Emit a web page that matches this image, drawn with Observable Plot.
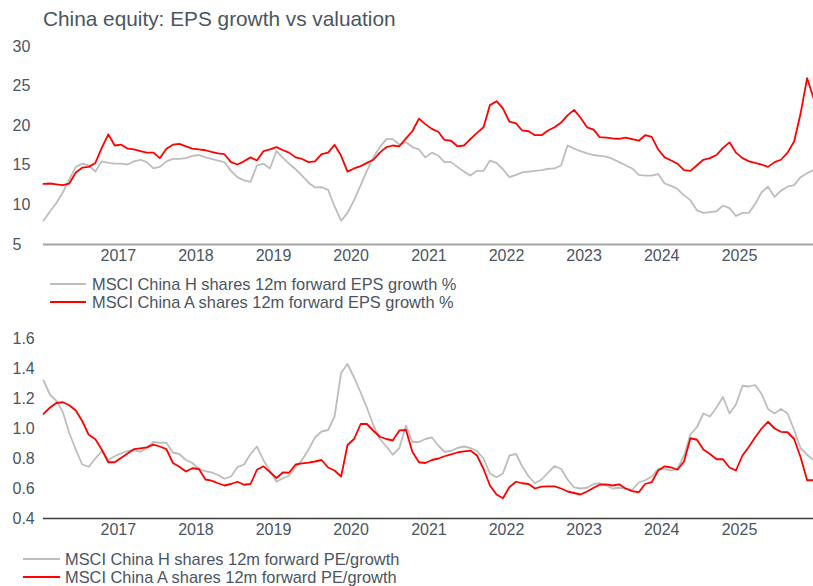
<!DOCTYPE html>
<html>
<head>
<meta charset="utf-8">
<script src="https://cdn.jsdelivr.net/npm/d3@7"></script>
<script src="https://cdn.jsdelivr.net/npm/@observablehq/plot@0.6"></script>
<style>
  html, body { margin: 0; padding: 0; background: #fff; }
  #root { position: relative; width: 813px; height: 586px; overflow: hidden; font-family: "Liberation Sans", Arial, sans-serif; color: #4a5561; }
  .title { position: absolute; left: 43px; top: 6px; font-size: 20.8px; line-height: 26px; white-space: nowrap; }
  .chart { position: absolute; left: 0; }
  .legend { position: absolute; font-size: 16.4px; white-space: nowrap; }
  .legend .item { position: relative; height: 18px; line-height: 18px; }
  .legend .sw { position: absolute; top: 8px; height: 2px; }
  .legend .tx { position: absolute; top: 0; }
</style>
</head>
<body>
<div id="root">
  <div class="title">China equity: EPS growth vs valuation</div>
  <div id="top" class="chart" style="top:30px"></div>
  <div id="legend1" class="legend" style="left:0; top:275px"></div>
  <div id="bottom" class="chart" style="top:322px"></div>
  <div id="legend2" class="legend" style="left:0; top:550px"></div>
</div>
<script>
// ---- Data (monthly, Jan 2016 – Dec 2025) ----
const startMonth = "2016-01-15";
const yearTicks = [2017, 2018, 2019, 2020, 2021, 2022, 2023, 2024, 2025];

const seriesNames = {
  epsH: "MSCI China H shares 12m forward EPS growth %",
  epsA: "MSCI China A shares 12m forward EPS growth %",
  pegH: "MSCI China H shares 12m forward PE/growth",
  pegA: "MSCI China A shares 12m forward PE/growth"
};

const epsH = [
  8.0, 9.2, 10.2, 11.6, 13.2, 14.8, 15.2, 15.0, 14.2, 15.5, 15.3, 15.2,
  15.2, 15.1, 15.5, 15.7, 15.4, 14.6, 14.8, 15.5, 15.8, 15.8, 15.9, 16.2,
  16.3, 16.0, 15.8, 15.6, 15.4, 14.3, 13.5, 13.1, 12.9, 15.0, 15.2, 14.6,
  16.8, 15.9, 15.2, 14.5, 13.7, 12.8, 12.2, 12.25, 11.9, 9.8, 8.0, 9.0,
  10.6, 12.5, 14.3, 16.0, 17.3, 18.3, 18.3, 17.6, 17.9, 17.3, 17.0, 16.0,
  16.6, 16.2, 15.4, 15.4, 14.8, 14.2, 13.7, 14.3, 14.3, 15.6, 15.3, 14.5,
  13.5, 13.8, 14.1, 14.2, 14.3, 14.4, 14.55, 14.6, 15.0, 17.5, 17.1, 16.8,
  16.5, 16.3, 16.2, 16.1, 15.8, 15.4, 15.0, 14.6, 13.8, 13.7, 13.7, 13.9,
  12.7, 12.4, 12.0, 11.2, 10.6, 9.3, 9.0, 9.1, 9.2, 9.9, 9.6, 8.6,
  9.0, 9.0, 10.1, 11.6, 12.3, 11.0, 11.8, 12.3, 12.5, 13.5, 14.0, 14.4
];
const epsA = [
  12.66, 12.7, 12.6, 12.5, 12.7, 14.1, 14.7, 14.8, 15.3, 17.2, 18.9, 17.5,
  17.6, 17.1, 17.0, 16.8, 16.6, 16.6, 15.9, 17.1, 17.6, 17.7, 17.4, 17.1,
  17.0, 16.9, 16.7, 16.5, 16.4, 15.4, 15.1, 15.5, 16.0, 15.6, 16.8, 17.0,
  17.3, 16.9, 16.6, 16.0, 15.8, 15.4, 15.5, 16.4, 16.6, 17.6, 16.2, 14.2,
  14.6, 14.9, 15.3, 15.7, 16.6, 17.3, 17.5, 17.4, 18.4, 19.3, 20.9, 20.2,
  19.6, 19.2, 18.2, 18.1, 17.4, 17.5, 18.3, 19.1, 19.8, 22.6, 23.1, 22.2,
  20.5, 20.3, 19.4, 19.3, 18.8, 18.8, 19.4, 19.8, 20.4, 21.3, 22.0, 21.0,
  19.8, 19.5, 18.55, 18.5, 18.4, 18.35, 18.5, 18.3, 18.1, 18.8, 18.6, 17.0,
  16.0, 15.6, 15.2, 14.4, 14.3, 15.0, 15.7, 15.9, 16.3, 17.2, 17.9, 16.6,
  15.9, 15.5, 15.3, 15.1, 14.8, 15.4, 15.7, 16.6, 18.0, 21.5, 26.0, 23.5
];
const pegH = [
  1.32, 1.225, 1.185, 1.11, 0.97, 0.86, 0.76, 0.745, 0.80, 0.85, 0.79, 0.815,
  0.835, 0.85, 0.855, 0.845, 0.87, 0.91, 0.905, 0.905, 0.84, 0.83, 0.79, 0.77,
  0.73, 0.715, 0.707, 0.69, 0.665, 0.68, 0.742, 0.76, 0.83, 0.88, 0.787, 0.72,
  0.645, 0.67, 0.685, 0.742, 0.79, 0.86, 0.94, 0.98, 0.99, 1.08, 1.37, 1.43,
  1.34, 1.24, 1.14, 1.02, 0.93, 0.88, 0.825, 0.87, 1.02, 0.91, 0.91, 0.93,
  0.94, 0.885, 0.845, 0.85, 0.87, 0.88, 0.87, 0.85, 0.80, 0.70, 0.675, 0.70,
  0.82, 0.83, 0.75, 0.68, 0.635, 0.66, 0.705, 0.75, 0.73, 0.66, 0.607, 0.60,
  0.605, 0.63, 0.635, 0.62, 0.60, 0.605, 0.60, 0.59, 0.64, 0.655, 0.68, 0.73,
  0.73, 0.72, 0.73, 0.82, 0.96, 1.01, 1.10, 1.08, 1.14, 1.21, 1.10, 1.16,
  1.285, 1.28, 1.29, 1.23, 1.13, 1.10, 1.13, 1.10, 0.99, 0.87, 0.825, 0.79
];
const pegA = [
  1.098, 1.14, 1.17, 1.175, 1.155, 1.12, 1.05, 0.958, 0.928, 0.86, 0.775, 0.775,
  0.805, 0.835, 0.862, 0.868, 0.874, 0.892, 0.88, 0.862, 0.77, 0.745, 0.713, 0.735,
  0.73, 0.66, 0.653, 0.635, 0.62, 0.63, 0.645, 0.625, 0.63, 0.725, 0.748, 0.71,
  0.67, 0.708, 0.705, 0.76, 0.768, 0.772, 0.78, 0.79, 0.74, 0.72, 0.68, 0.89,
  0.93, 1.03, 1.03, 0.985, 0.945, 0.93, 0.92, 0.987, 0.99, 0.845, 0.775, 0.77,
  0.79, 0.80, 0.815, 0.827, 0.84, 0.848, 0.853, 0.82, 0.73, 0.62, 0.56, 0.535,
  0.61, 0.645, 0.635, 0.63, 0.60, 0.612, 0.614, 0.614, 0.60, 0.58, 0.57, 0.56,
  0.58, 0.605, 0.625, 0.628, 0.62, 0.628, 0.60, 0.582, 0.575, 0.63, 0.642, 0.72,
  0.748, 0.74, 0.725, 0.78, 0.935, 0.925, 0.86, 0.83, 0.795, 0.795, 0.74, 0.72,
  0.82, 0.88, 0.94, 1.0, 1.045, 1.0, 0.978, 0.975, 0.93, 0.81, 0.655, 0.655
];

const topTicks = [5, 10, 15, 20, 25, 30];
const bottomTicks = [0.4, 0.6, 0.8, 1.0, 1.2, 1.4, 1.6];

// ---- Styles ----
const grayColor = "#bdbdbd";
const redColor = "#ff0000";
const textColor = "#4a5561";

// ---- Build tables ----
const t0 = new Date(startMonth + "T00:00:00Z");
const dates = epsH.map((_, i) => d3.utcMonth.offset(t0, i));
function toRows(values, key) {
  return values.map((v, i) => ({ date: dates[i], value: v, key }));
}
const topRows = [...toRows(epsH, "H"), ...toRows(epsA, "A")];
const bottomRows = [...toRows(pegH, "H"), ...toRows(pegA, "A")];
const xTicks = yearTicks.map(y => new Date(Date.UTC(y, 0, 1)));
const xDomain = [dates[0], dates[dates.length - 1]];

function makeChart(rows, yDomain, yTicks, yFmt, axisColor, axisWidth, height) {
  return Plot.plot({
    width: 813,
    height,
    marginTop: 16,
    marginBottom: 25,
    marginLeft: 43,
    marginRight: 0,
    style: { fontFamily: '"Liberation Sans", Arial, sans-serif', fontSize: "16px", color: textColor, background: "white" },
    x: { type: "utc", domain: xDomain },
    y: { domain: yDomain },
    color: { domain: ["H", "A"], range: [grayColor, redColor] },
    marks: [
      Plot.axisY({ ticks: yTicks, tickFormat: yFmt, tickSize: 0, tickPadding: 31, textAnchor: "start", label: null, fill: textColor, fontSize: 16 }),
      Plot.axisX({ ticks: xTicks, tickFormat: d3.utcFormat("%Y"), tickSize: 0, tickPadding: 5, label: null, fill: textColor, fontSize: 16 }),
      Plot.ruleY([yDomain[0]], { stroke: axisColor, strokeWidth: axisWidth }),
      Plot.line(rows, { x: "date", y: "value", z: "key", stroke: "key", strokeWidth: 1.8 })
    ]
  });
}

document.getElementById("top").appendChild(
  makeChart(topRows, [5, 30], topTicks, d => String(d), "#a6a6a6", 2, 239)
);
document.getElementById("bottom").appendChild(
  makeChart(bottomRows, [0.4, 1.6], bottomTicks, d3.format(".1f"), "#3c3c3c", 1.5, 221)
);

function legend(el, items, lineLeft, lineWidth, textLeft) {
  const root = document.getElementById(el);
  items.forEach(([label, color]) => {
    const item = document.createElement("div");
    item.className = "item";
    const sw = document.createElement("div");
    sw.className = "sw";
    sw.style.left = lineLeft + "px";
    sw.style.width = lineWidth + "px";
    sw.style.background = color;
    const tx = document.createElement("div");
    tx.className = "tx";
    tx.style.left = textLeft + "px";
    tx.textContent = label;
    item.appendChild(sw);
    item.appendChild(tx);
    root.appendChild(item);
  });
}
legend("legend1", [[seriesNames.epsH, grayColor], [seriesNames.epsA, redColor]], 50, 36, 92);
legend("legend2", [[seriesNames.pegH, grayColor], [seriesNames.pegA, redColor]], 23, 37, 65);
</script>
</body>
</html>
